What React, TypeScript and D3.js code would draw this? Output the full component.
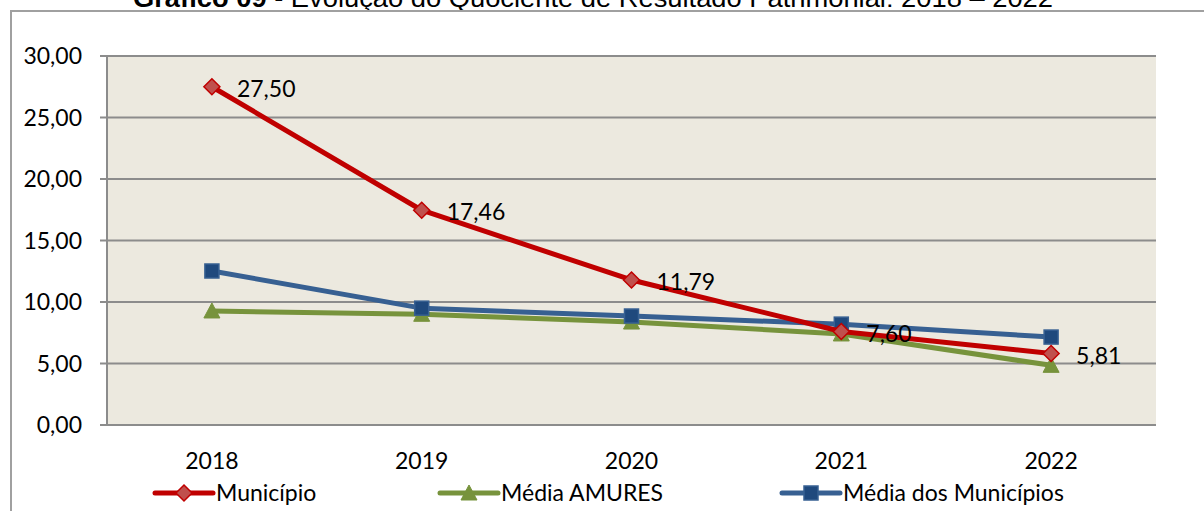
import { useMemo } from 'react'
import * as d3 from 'd3'

const YEARS = ['2018', '2019', '2020', '2021', '2022']
const MUNICIPIO = [27.5, 17.46, 11.79, 7.6, 5.81]
const MEDIA_AMURES = [9.27, 9.0, 8.37, 7.4, 4.85]
const MEDIA_MUNICIPIOS = [12.52, 9.5, 8.86, 8.2, 7.15]
const Y_TICKS = [0, 5, 10, 15, 20, 25, 30]

const W = 1204
const H = 511
const FONT = 'Lato, "Open Sans", sans-serif'

const fmt = (v: number) => v.toFixed(2).replace('.', ',')

type Shape = 'diamond' | 'triangle' | 'square'

const SERIES: { name: string; values: number[]; line: string; fill: string; stroke: string; shape: Shape }[] = [
  { name: 'Média AMURES', values: MEDIA_AMURES, line: '#77933C', fill: '#77933C', stroke: '#77933C', shape: 'triangle' },
  { name: 'Média dos Municípios', values: MEDIA_MUNICIPIOS, line: '#376092', fill: '#1F497D', stroke: '#376092', shape: 'square' },
  { name: 'Município', values: MUNICIPIO, line: '#C00000', fill: '#C0504D', stroke: '#C00000', shape: 'diamond' },
]

const LEGEND = [
  { idx: 2, x: 155 },
  { idx: 0, x: 440 },
  { idx: 1, x: 782 },
]

function Marker({ shape, x, y, fill, stroke }: { shape: Shape; x: number; y: number; fill: string; stroke: string }) {
  if (shape === 'diamond') {
    const s = 8
    return <path d={`M${x},${y - s}L${x + s},${y}L${x},${y + s}L${x - s},${y}Z`} fill={fill} stroke={stroke} strokeWidth={1.5} />
  }
  if (shape === 'square') {
    const s = 7
    return <rect x={x - s} y={y - s} width={2 * s} height={2 * s} fill={fill} stroke={stroke} strokeWidth={1.5} />
  }
  const s = 8
  return <path d={`M${x},${y - s}L${x + s},${y + s - 1}L${x - s},${y + s - 1}Z`} fill={fill} stroke={stroke} strokeWidth={1} />
}

export default function App() {
  const pad = { l: 107, r: 1156, t: 56, b: 425 }

  const x = useMemo(() => d3.scaleBand().domain(YEARS).range([pad.l, pad.r]), [])
  const y = useMemo(() => d3.scaleLinear().domain([0, 30]).range([pad.b, pad.t]), [])
  const cx = (yr: string) => (x(yr) ?? 0) + x.bandwidth() / 2

  const line = d3.line<number>()
    .x((_, i) => cx(YEARS[i]))
    .y(d => y(d))

  return (
    <svg width={W} height={H} style={{ position: 'absolute', left: 0, top: 0, display: 'block' }}>
      <rect x={0} y={0} width={W} height={H} fill="#fff" />
      {/* title, cut at the top edge as in the source */}
      <text x={593} y={7} textAnchor="middle" fontFamily='"Liberation Sans", Arial, sans-serif' fontSize={25}
        textLength={920} lengthAdjust="spacingAndGlyphs" fill="#000">
        <tspan fontWeight="bold">Gráfico 09</tspan> - Evolução do Quociente de Resultado Patrimonial: 2018 – 2022
      </text>
      {/* outer frame */}
      <path d={`M11,${H + 2}V11H${W + 2}`} fill="none" stroke="#a0a0a0" strokeWidth={2} />

      {/* plot area */}
      <rect x={pad.l} y={pad.t} width={pad.r - pad.l} height={pad.b - pad.t} fill="#ECE9DF" />
      {Y_TICKS.map(t => (
        <g key={t}>
          <line x1={pad.l - 7} x2={pad.r} y1={y(t)} y2={y(t)} stroke="#8c8c8c" strokeWidth={2} />
          <text x={82} y={y(t)} dy="0.35em" textAnchor="end" fontFamily={FONT} fontSize={23} fill="#000">{fmt(t)}</text>
        </g>
      ))}
      <line x1={pad.l} x2={pad.l} y1={pad.t} y2={pad.b} stroke="#8c8c8c" strokeWidth={2} />

      {YEARS.map(yr => (
        <text key={yr} x={cx(yr)} y={461} dy="0.35em" textAnchor="middle" fontFamily={FONT} fontSize={23} fill="#000">{yr}</text>
      ))}

      {SERIES.map(s => (
        <g key={s.name}>
          <path d={line(s.values) ?? ''} fill="none" stroke={s.line} strokeWidth={5} strokeLinejoin="round" />
          {s.values.map((v, i) => (
            <Marker key={i} shape={s.shape} x={cx(YEARS[i])} y={y(v)} fill={s.fill} stroke={s.stroke} />
          ))}
        </g>
      ))}

      {MUNICIPIO.map((v, i) => (
        <text key={i} x={cx(YEARS[i]) + 25} y={y(v) + 2} dy="0.35em" fontFamily={FONT} fontSize={23} fill="#000">{fmt(v)}</text>
      ))}

      {LEGEND.map(l => {
        const s = SERIES[l.idx]
        return (
          <g key={s.name}>
            <line x1={l.x} x2={l.x + 58} y1={493} y2={493} stroke={s.line} strokeWidth={5} strokeLinecap="round" />
            <Marker shape={s.shape} x={l.x + 29} y={493} fill={s.fill} stroke={s.stroke} />
            <text x={l.x + 61} y={493} dy="0.35em" fontFamily={FONT} fontSize={23} fill="#000">{s.name}</text>
          </g>
        )
      })}
    </svg>
  )
}
